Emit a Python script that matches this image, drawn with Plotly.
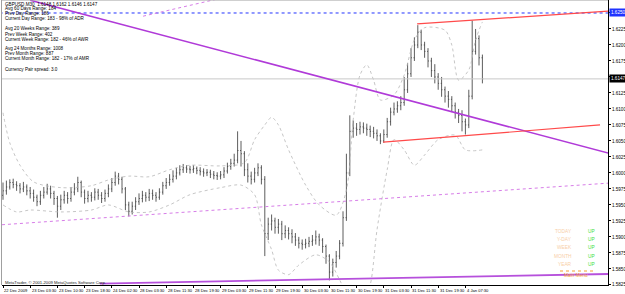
import plotly.graph_objects as go

# ---------------- data (prices in pips: price * 10000) ----------------
bar_index = list(range(142))
opens = [15965,15972,15978,15985,15982,15980,15975,15978,15972,15968,
         15962,15955,15965,15970,15975,15968,15960,15948,15958,15965,
         15960,15970,15975,15985,15970,15960,15965,15962,15970,15965,
         15960,15968,15975,15985,15995,15990,15975,15950,15940,15948,
         15955,15960,15965,15962,15968,15965,15962,15970,15980,15985,
         15990,15995,16000,16005,16008,16006,16005,16007,16004,16002,
         16000,16001,15998,15996,15995,15997,16003,16010,16015,16020,
         16035,16030,16005,15995,15990,16000,16008,15990,15905,15920,
         15925,15915,15920,15905,15910,15905,15900,15895,15890,15888,
         15890,15893,15895,15900,15895,15885,15870,15845,15860,15870,
         15890,15930,16000,16065,16070,16068,16072,16070,16068,16065,
         16062,16058,16050,16060,16080,16095,16100,16105,16110,16130,
         16155,16180,16200,16220,16200,16190,16175,16160,16150,16140,
         16130,16120,16115,16105,16095,16090,16080,16075,16120,16190,
         16210,16180]
highs = [15985,15988,15990,15991,15987,15984,15986,15982,15978,15974,
         15966,15972,15978,15983,15980,15972,15964,15966,15972,15970,
         15978,15984,15994,15988,15974,15972,15970,15976,15975,15970,
         15974,15982,15992,16002,16000,15994,15978,15955,15955,15962,
         15968,15972,15970,15975,15974,15970,15976,15986,15992,15998,
         16004,16008,16012,16014,16012,16011,16012,16010,16009,16007,
         16006,16005,16003,16001,16003,16009,16016,16022,16030,16065,
         16050,16034,16015,16002,16008,16015,16012,15995,15930,15935,
         15930,15928,15925,15918,15915,15912,15906,15900,15896,15897,
         15900,15903,15910,15905,15898,15888,15873,15866,15878,15895,
         15940,16030,16090,16082,16078,16080,16079,16077,16074,16072,
         16068,16062,16068,16086,16102,16110,16112,16120,16150,16172,
         16195,16212,16231,16224,16205,16195,16180,16170,16156,16150,
         16135,16128,16120,16110,16100,16098,16085,16130,16238,16225,
         16215,16185]
lows = [15958,15966,15974,15976,15972,15968,15970,15965,15960,15955,
        15948,15950,15960,15966,15960,15950,15930,15942,15952,15952,
        15955,15965,15970,15962,15952,15954,15955,15957,15958,15953,
        15955,15962,15970,15980,15982,15968,15942,15932,15935,15942,
        15950,15954,15955,15956,15958,15955,15958,15966,15975,15980,
        15985,15990,15996,16000,16000,15999,16000,15998,15996,15994,
        15995,15992,15990,15989,15990,15992,15999,16005,16010,16015,
        16010,15995,15985,15982,15985,15995,15982,15870,15895,15910,
        15905,15905,15895,15898,15896,15890,15886,15882,15880,15882,
        15884,15886,15888,15886,15875,15858,15832,15838,15852,15865,
        15885,15925,15995,16055,16058,16060,16062,16058,16056,16054,
        16050,16045,16047,16055,16074,16090,16094,16098,16105,16125,
        16150,16175,16195,16192,16180,16165,16150,16140,16130,16119,
        16110,16102,16095,16085,16078,16065,16060,16070,16115,16185,
        16168,16140]
closes = [15972,15978,15985,15982,15980,15975,15978,15972,15968,15962,
          15955,15965,15970,15975,15968,15960,15948,15958,15965,15960,
          15970,15975,15985,15970,15960,15965,15962,15970,15965,15960,
          15968,15975,15985,15995,15990,15975,15950,15940,15948,15955,
          15960,15965,15962,15968,15965,15962,15970,15980,15985,15990,
          15995,16000,16005,16008,16006,16005,16007,16004,16002,16000,
          16001,15998,15996,15995,15997,16003,16010,16015,16020,16035,
          16030,16005,15995,15990,16000,16008,15990,15905,15920,15925,
          15915,15920,15905,15910,15905,15900,15895,15890,15888,15890,
          15893,15895,15900,15895,15885,15870,15845,15860,15870,15890,
          15930,16000,16065,16070,16068,16072,16070,16068,16065,16062,
          16058,16050,16060,16080,16095,16100,16105,16110,16130,16155,
          16180,16200,16220,16200,16190,16175,16160,16150,16140,16130,
          16120,16115,16105,16095,16090,16080,16075,16120,16190,16210,
          16180,16147]

# Bollinger bands (sampled)
bb_up_idx = [0,2,5,9,17,26,31,37,43,49,55,64,71,74,77,79,81,84,89,93,98,101,103,105,107,109,111,115,118,121,124,130,132,134,137,139,141]
bb_up_val = [16094,16047,16012,15986,15977,15980,15989,15995,15994,16005,16012,16011,16016,16052,16075,16087,16075,16036,15981,15950,15934,15973,16083,16153,16169,16145,16114,16122,16153,16208,16227,16223,16200,16145,16161,16208,16236]
bb_lo_idx = [0,4,8,17,26,31,37,43,49,55,64,70,74,76,79,81,84,87,92,96,99,102,106,108,110,113,115,118,121,124,128,133,136,141]
bb_lo_val = [15950,15939,15942,15939,15942,15950,15939,15939,15950,15966,15977,15981,15966,15919,15880,15848,15841,15856,15872,15861,15833,15802,15802,15825,15911,16005,16052,16036,16012,16028,16052,16059,16036,16036]

# trend lines (bar index, price in pips)
purple_idx, purple_val = [8, 178], [16270, 16031]
purple_low_idx, purple_low_val = [28.5, 178], [15827, 15842]
pink_up_idx, pink_up_val = [41.2, 64], [16245, 16273]
pink_low_idx, pink_low_val = [-0.3, 178], [15919, 15984]
red_up_idx, red_up_val = [121.8, 178], [16233, 16253]
red_lo_idx, red_lo_val = [111.8, 175.6], [16048, 16075]
blue_level = 16250
bid_level = 16147

# axis labels
label_index = [0, 8, 16, 24, 32, 40, 48, 56, 64, 72, 80, 88, 96, 104, 112, 120, 128, 136]
label_text = ["22 Dec 2009", "23 Dec 03:30", "23 Dec 10:30", "23 Dec 18:30", "24 Dec 02:30",
              "28 Dec 03:30", "28 Dec 11:30", "28 Dec 19:30", "29 Dec 03:30", "29 Dec 11:30",
              "29 Dec 19:30", "30 Dec 03:30", "30 Dec 11:30", "30 Dec 19:30", "31 Dec 03:30",
              "31 Dec 11:30", "31 Dec 19:30", "4 Jan 07:30"]
price_ticks = [15825, 15850, 15875, 15900, 15925, 15950, 15975, 16000, 16025, 16050,
               16075, 16100, 16125, 16150, 16175, 16200, 16225, 16250]

info_lines = ["GBPUSD,M30  1.6148 1.6162 1.6146 1.6147",
              "Avg 60 Days Range: 184",
              "Prev Day Range: 186",
              "Current Day Range: 183 - 98% of ADR",
              "Avg 20 Weeks Range: 389",
              "Prev Week Range: 402",
              "Current Week Range: 182 - 46% of AWR",
              "Avg 24 Months Range: 1008",
              "Prev Month Range: 887",
              "Current Month Range: 182 - 17% of AMR",
              "Currency Pair spread: 3.0"]
status_names = ["TODAY", "Y-DAY", "WEEK", "MONTH", "YEAR"]
status_vals = ["UP", "UP", "UP", "UP", "UP"]

# ---------------- figure ----------------
def p(v):
    return [x / 10000.0 for x in v]

W, H = 625, 294
ML, MR, MT, MB = 2, 17, 0, 9
PW, PH = W - ML - MR, H - MT - MB

def fx(px):
    return (px - ML) / PW

def fy(py):
    return 1 - (py - MT) / PH

FONT = "Liberation Sans, Arial, sans-serif"

fig = go.Figure()

bb_style = dict(color="#b8b8b8", width=0.8, dash="dot", shape="spline", smoothing=0.8)
fig.add_trace(go.Scatter(x=bb_up_idx, y=p(bb_up_val), mode="lines", line=bb_style, hoverinfo="skip"))
fig.add_trace(go.Scatter(x=bb_lo_idx, y=p(bb_lo_val), mode="lines", line=bb_style, hoverinfo="skip"))

# horizontal levels
fig.add_trace(go.Scatter(x=[-1, 179], y=p([bid_level, bid_level]), mode="lines",
                         line=dict(color="#c8c8c8", width=1), hoverinfo="skip"))
fig.add_trace(go.Scatter(x=[-1, 179], y=p([blue_level, blue_level]), mode="lines",
                         line=dict(color="#2233ff", width=1, dash="dot"), hoverinfo="skip"))

fig.add_trace(go.Scatter(x=pink_low_idx, y=p(pink_low_val), mode="lines",
                         line=dict(color="#d77de8", width=1, dash="dot"), hoverinfo="skip"))
fig.add_trace(go.Scatter(x=pink_up_idx, y=p(pink_up_val), mode="lines",
                         line=dict(color="#d77de8", width=1, dash="dot"), hoverinfo="skip"))

fig.add_trace(go.Ohlc(x=bar_index, open=p(opens), high=p(highs), low=p(lows), close=p(closes),
                      increasing=dict(line=dict(color="#333333", width=0.8)),
                      decreasing=dict(line=dict(color="#333333", width=0.8)),
                      tickwidth=0.25, hoverinfo="skip"))

fig.add_trace(go.Scatter(x=purple_idx, y=p(purple_val), mode="lines",
                         line=dict(color="#b03ad8", width=1.5), hoverinfo="skip"))
fig.add_trace(go.Scatter(x=purple_low_idx, y=p(purple_low_val), mode="lines",
                         line=dict(color="#b650dc", width=1.8), hoverinfo="skip"))
fig.add_trace(go.Scatter(x=red_up_idx, y=p(red_up_val), mode="lines",
                         line=dict(color="#ff4a4a", width=1.2), hoverinfo="skip"))
fig.add_trace(go.Scatter(x=red_lo_idx, y=p(red_lo_val), mode="lines",
                         line=dict(color="#ff4a4a", width=1.2), hoverinfo="skip"))

ann = []
info_y = [4, 8.6, 13.6, 19, 28.6, 34, 39.2, 48.4, 53.6, 58.8, 69]
for t, yy in zip(info_lines, info_y):
    ann.append(dict(x=fx(2.5), y=fy(yy), xref="paper", yref="paper", text=t, showarrow=False,
                    xanchor="left", yanchor="middle", font=dict(family=FONT, size=4.6, color="#000")))

for t, i in zip(label_text, label_index):
    ann.append(dict(x=i - 0.2, y=fy(290), xref="x", yref="paper", text=t, showarrow=False,
                    xanchor="left", yanchor="middle", font=dict(family=FONT, size=4.1, color="#000")))

row_y = [231, 239, 247.5, 256, 264]
for n, v, yy in zip(status_names, status_vals, row_y):
    ann.append(dict(x=fx(574), y=fy(yy), xref="paper", yref="paper", text=n, showarrow=False,
                    xanchor="right", yanchor="middle", font=dict(family=FONT, size=4.8, color="#f8cfa8")))
    ann.append(dict(x=fx(586), y=fy(yy), xref="paper", yref="paper", text=v, showarrow=False,
                    xanchor="left", yanchor="middle", font=dict(family=FONT, size=4.8, color="#3ee03e")))

ann.append(dict(x=fx(576), y=fy(275.5), xref="paper", yref="paper", text="Main Menu", showarrow=False,
                xanchor="center", yanchor="middle", font=dict(family=FONT, size=4.8, color="#f5a030")))
ann.append(dict(x=fx(2.5), y=fy(282.5), xref="paper", yref="paper",
                text="MetaTrader, © 2001-2009 MetaQuotes Software Corp.", showarrow=False,
                xanchor="left", yanchor="middle", font=dict(family=FONT, size=4.2, color="#222")))

# price boxes on the axis
ann.append(dict(x=1, y=blue_level / 10000.0, xref="paper", yref="y", text="1.6250", showarrow=False,
                xanchor="left", yanchor="middle", xshift=1, bgcolor="#1f33ff", borderpad=1,
                font=dict(family=FONT, size=4.6, color="#fff")))
ann.append(dict(x=1, y=bid_level / 10000.0, xref="paper", yref="y", text="1.6147", showarrow=False,
                xanchor="left", yanchor="middle", xshift=1, bgcolor="#000", borderpad=1,
                font=dict(family=FONT, size=4.6, color="#fff")))

shapes = [
    dict(type="line", xref="paper", yref="paper", x0=fx(560), x1=fx(593), y0=fy(271), y1=fy(271),
         line=dict(color="#f5a030", width=1, dash="dot")),
    dict(type="line", xref="paper", yref="paper", x0=fx(1.5), x1=fx(1.5), y0=0, y1=1,
         line=dict(color="#a0a0a0", width=1)),
    dict(type="line", xref="paper", yref="paper", x0=0, x1=1, y0=1, y1=1,
         line=dict(color="#a0a0a0", width=1)),
]

fig.update_layout(
    width=W, height=H, margin=dict(l=ML, r=MR, t=MT, b=MB, autoexpand=False),
    paper_bgcolor="#fff", plot_bgcolor="#fff", showlegend=False,
    annotations=ann, shapes=shapes,
    xaxis=dict(range=[-0.294, 177.94], showgrid=False, zeroline=False, showline=True,
               linecolor="#000", linewidth=1, tickvals=label_index, ticks="outside", ticklen=2,
               tickcolor="#000", showticklabels=False, rangeslider=dict(visible=False),
               automargin=False),
    yaxis=dict(side="right", range=[1.58248, 1.62703], showgrid=False, zeroline=False,
               showline=True, linecolor="#000", linewidth=1,
               tickvals=p(price_ticks), ticktext=["%.4f" % (v / 10000.0) for v in price_ticks],
               ticks="outside", ticklen=2, tickcolor="#000",
               tickfont=dict(family=FONT, size=4.6, color="#000"), automargin=False),
)

fig.write_html("out.html")
